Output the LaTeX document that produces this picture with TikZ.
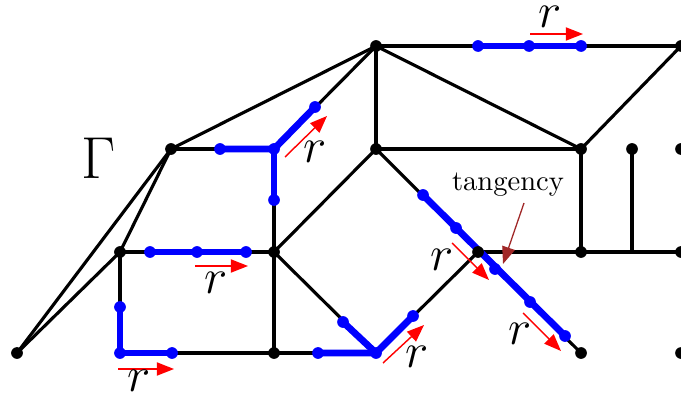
\documentclass[tikz,border=0pt]{standalone}
\usetikzlibrary{arrows.meta}
\definecolor{tanbrown}{RGB}{160,40,40}
\begin{document}
\begin{tikzpicture}[x=0.35pt,y=-0.35pt,
 edge/.style={line width=1.1pt,black},
 bedge/.style={line width=2.4pt,blue,line join=round},
 kdot/.style={circle,fill=black,inner sep=0pt,minimum size=4.1pt},
 bdot/.style={circle,fill=blue,inner sep=0pt,minimum size=4.1pt},
 rarr/.style={red,line width=0.5pt,-{Triangle[length=6pt,width=4.6pt]}},
 barr/.style={tanbrown,line width=0.45pt,-{Triangle[length=6pt,width=4.6pt]}},
 rlab/.style={font=\fontsize{16}{19}\selectfont,inner sep=0pt}]
\useasboundingbox (0,0) rectangle (681,398);
% main vertices
\coordinate (A) at (17,353);
\coordinate (G) at (171,149);
\coordinate (B) at (120,252);
\coordinate (C) at (274,252);
\coordinate (D) at (274,353);
\coordinate (E) at (120,353);
\coordinate (F) at (376,46);
\coordinate (H) at (376,149);
\coordinate (I) at (376,353);
\coordinate (J) at (478,252);
\coordinate (K) at (581,149);
\coordinate (L) at (581,252);
\coordinate (M) at (632,149);
\coordinate (Mb) at (632,252);
\coordinate (N) at (681,46);
\coordinate (O) at (681,149);
\coordinate (P) at (681,252);
\coordinate (Q) at (581,353);
\coordinate (R) at (681,353);
\coordinate (T) at (274,149);
% blue points
\coordinate (t1) at (478,46);
\coordinate (t2) at (529,46);
\coordinate (t3) at (581,46);
\coordinate (g1) at (220,149);
\coordinate (g2) at (315,107);
\coordinate (g3) at (274,200);
\coordinate (b1) at (150,252);
\coordinate (b2) at (197,252);
\coordinate (b3) at (246,252);
\coordinate (e1) at (120,307);
\coordinate (e2) at (172,353);
\coordinate (d1) at (318,353);
\coordinate (c1) at (343,322);
\coordinate (i1) at (413,316);
\coordinate (h1) at (423,195);
\coordinate (h2) at (456,228);
\coordinate (h3) at (495,269);
\coordinate (h4) at (530,302);
\coordinate (h5) at (565,336);
% black edges
\draw[edge] (A) -- (G);
\draw[edge] (A) -- (B);
\draw[edge] (G) -- (B);
\draw[edge] (G) -- (F);
\draw[edge] (G) -- (T);
\draw[edge] (T) -- (F);
\draw[edge] (T) -- (C);
\draw[edge] (B) -- (C);
\draw[edge] (B) -- (E);
\draw[edge] (E) -- (D);
\draw[edge] (C) -- (D);
\draw[edge] (C) -- (H);
\draw[edge] (C) -- (I);
\draw[edge] (D) -- (I);
\draw[edge] (I) -- (J);
\draw[edge] (H) -- (Q);
\draw[edge] (F) -- (H);
\draw[edge] (F) -- (N);
\draw[edge] (F) -- (K);
\draw[edge] (H) -- (K);
\draw[edge] (K) -- (N);
\draw[edge] (K) -- (L);
\draw[edge] (M) -- (Mb);
\draw[edge] (J) -- (P);
% blue paths
\draw[bedge] (t1) -- (t3);
\draw[bedge] (g1) -- (T) -- (g2);
\draw[bedge] (T) -- (g3);
\draw[bedge] (b1) -- (b3);
\draw[bedge] (e1) -- (E) -- (e2);
\draw[bedge] (d1) -- (I) -- (i1);
\draw[bedge] (c1) -- (I);
\draw[bedge] (h1) -- (h5);
% black dots
\foreach \p in {A,G,B,C,D,F,H,J,K,L,M,N,O,P,Q,R}
  \node[kdot] (n\p) at (\p) {};
% blue dots
\foreach \p in {T,E,I,t1,t2,t3,g1,g2,g3,b1,b2,b3,e1,e2,d1,c1,i1,h1,h2,h3,h4,h5}
  \node[bdot] (n\p) at (\p) {};
% red arrows
\coordinate (r1s) at (530,34);  \coordinate (r1e) at (583,34);
\coordinate (r2s) at (285,157); \coordinate (r2e) at (327,116);
\coordinate (r3s) at (195,266); \coordinate (r3e) at (248,266);
\coordinate (r4s) at (118,369); \coordinate (r4e) at (174,369);
\coordinate (r5s) at (383,363); \coordinate (r5e) at (424,325);
\coordinate (r6s) at (452,243); \coordinate (r6e) at (489,280);
\coordinate (r7s) at (523,313); \coordinate (r7e) at (561,351);
\draw[rarr] (r1s) -- (r1e);
\draw[rarr] (r2s) -- (r2e);
\draw[rarr] (r3s) -- (r3e);
\draw[rarr] (r4s) -- (r4e);
\draw[rarr] (r5s) -- (r5e);
\draw[rarr] (r6s) -- (r6e);
\draw[rarr] (r7s) -- (r7e);
% labels
\node[rlab] (l1) at (550,17) {$r$};
\node[rlab] (l2) at (315,152) {$r$};
\node[rlab] (l3) at (216,283) {$r$};
\node[rlab] (l4) at (139,381) {$r$};
\node[rlab] (l5) at (417,357) {$r$};
\node[rlab] (l6) at (442,260) {$r$};
\node[rlab] (l7) at (520,334) {$r$};
\node[font=\fontsize{19.5}{24}\selectfont,inner sep=0pt] (gam) at (99,158) {$\Gamma$};
\node[inner sep=0pt] (tang) at (508,185) {tangency};
\coordinate (tgs) at (524,203);
\coordinate (tg) at (503,264);
\draw[barr] (tgs) -- (tg);
\end{tikzpicture}
\end{document}
